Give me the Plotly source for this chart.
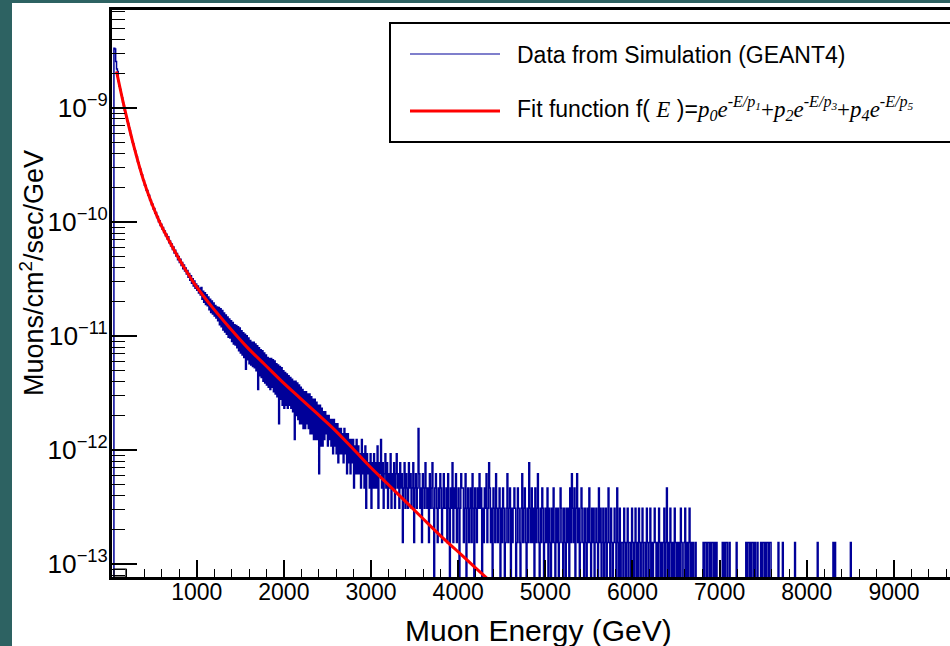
import numpy as np
import plotly.graph_objects as go

# ---------------- data ----------------
# Simulated histogram: counts per 10 GeV bin, starting at 50 GeV (one row = 200 GeV)
bin_low = 50.0
bin_width = 10.0
unit_per_count = 1.545e-13  # Muons/cm^2/sec/GeV per count
counts = [
    21600, 21300, 16500, 14200, 13500, 11050, 10020, 9380, 8510, 7960, 7240, 6810, 6190, 5840, 5330, 4970, 4720, 4310, 4100, 3740,
    3580, 3260, 3120, 2820, 2710, 2490, 2410, 2190, 2130, 1930, 1880, 1700, 1670, 1510, 1490, 1360, 1350, 1230, 1220, 1110,
    1110, 1010, 1000, 915, 925, 840, 850, 770, 785, 708, 722, 650, 664, 602, 618, 561, 578, 523, 540, 490,
    505, 458, 480, 425, 440, 398, 415, 372, 390, 345, 366, 325, 342, 302, 322, 286, 304, 268, 285, 252,
    272, 240, 256, 226, 243, 212, 229, 199, 218, 188, 206, 178, 196, 170, 185, 163, 178, 154, 170, 148,
    172, 136, 160, 128, 155, 122, 149, 119, 142, 110, 136, 104, 131, 101, 126, 97, 120, 93, 116, 88,
    115, 81, 112, 78, 108, 73, 103, 70, 99, 67, 95, 63, 91, 62, 88, 58, 85, 55, 81, 54,
    80, 51, 78, 48, 76, 46, 72, 44, 69, 42, 67, 33, 65, 40, 62, 37, 59, 36, 57, 35,
    57, 34, 55, 32, 53, 22, 51, 29, 49, 28, 48, 26, 46, 25, 44, 24, 42, 23, 41, 22,
    41, 23, 40, 21, 39, 20, 37, 19, 36, 11, 35, 18, 34, 16, 32, 15, 31, 16, 30, 15,
    29, 16, 28, 15, 27, 14, 26, 8, 26, 13, 25, 12, 24, 11, 23, 11, 22, 10, 21, 10,
    21, 11, 20, 10, 20, 9, 19, 9, 18, 8, 18, 8, 17, 8, 16, 4, 16, 7, 15, 7,
    14, 8, 14, 9, 13, 7, 13, 8, 12, 7, 12, 6, 12, 7, 11, 6, 11, 5, 10, 6,
    10, 6, 9, 5, 10, 6, 9, 4, 9, 5, 8, 4, 8, 5, 8, 3, 7, 4, 8, 4,
    7, 4, 6, 3, 8, 4, 6, 3, 7, 2, 6, 4, 5, 3, 6, 2, 5, 3, 6, 3,
    5, 3, 7, 2, 5, 4, 8, 3, 5, 2, 4, 6, 3, 5, 2, 4, 3, 6, 2, 4,
    3, 5, 2, 4, 6, 3, 4, 2, 5, 3, 4, 1, 3, 5, 2, 4, 3, 2, 5, 3,
    4, 2, 3, 5, 1, 3, 4, 2, 3, 10, 4, 2, 3, 1, 4, 3, 2, 5, 3, 2,
    3, 1, 4, 2, 3, 5, 2, 0, 3, 4, 2, 1, 3, 2, 4, 3, 1, 2, 4, 2,
    2, 3, 1, 4, 2, 0, 3, 2, 5, 1, 3, 2, 4, 1, 2, 3, 0, 2, 4, 3,
    3, 1, 2, 4, 0, 2, 3, 1, 2, 3, 1, 4, 2, 0, 3, 2, 1, 3, 2, 4,
    2, 3, 0, 2, 1, 3, 2, 4, 1, 2, 5, 3, 1, 2, 0, 3, 2, 1, 4, 2,
    1, 2, 3, 0, 2, 1, 3, 2, 0, 1, 2, 4, 1, 2, 3, 0, 2, 1, 2, 3,
    2, 0, 1, 3, 2, 1, 0, 2, 4, 1, 2, 3, 1, 0, 2, 1, 5, 2, 1, 3,
    1, 2, 0, 3, 1, 2, 4, 1, 0, 2, 1, 3, 2, 0, 1, 2, 1, 3, 0, 2,
    1, 0, 2, 1, 3, 1, 0, 2, 1, 2, 0, 1, 3, 2, 1, 0, 2, 1, 0, 2,
    1, 2, 0, 3, 1, 4, 2, 1, 3, 0, 2, 4, 1, 2, 0, 1, 3, 2, 1, 0,
    2, 1, 0, 2, 1, 3, 1, 0, 2, 1, 2, 0, 1, 2, 1, 0, 3, 1, 2, 0,
    1, 2, 0, 1, 2, 0, 1, 3, 1, 0, 2, 1, 0, 1, 2, 1, 0, 3, 1, 0,
    2, 0, 1, 1, 0, 2, 1, 0, 1, 2, 0, 1, 1, 0, 2, 1, 0, 1, 2, 0,
    1, 0, 2, 1, 0, 1, 2, 0, 1, 1, 0, 2, 1, 0, 1, 2, 0, 1, 0, 1,
    2, 1, 0, 1, 0, 2, 1, 0, 1, 0, 1, 2, 0, 1, 3, 0, 1, 0, 2, 1,
    0, 1, 0, 2, 1, 0, 1, 0, 1, 0, 2, 1, 0, 0, 1, 2, 0, 1, 0, 1,
    2, 0, 1, 0, 1, 0, 0, 1, 0, 0, 0, 0, 0, 0, 0, 0, 1, 0, 1, 1,
    0, 1, 1, 0, 1, 0, 1, 1, 0, 1, 0, 1, 0, 0, 0, 0, 0, 0, 1, 0,
    1, 0, 1, 1, 0, 0, 1, 0, 0, 0, 0, 0, 0, 0, 1, 0, 0, 0, 0, 0,
    0, 0, 0, 0, 0, 1, 0, 1, 1, 0, 1, 0, 1, 1, 0, 1, 0, 0, 1, 0,
    0, 0, 1, 0, 1, 1, 0, 1, 0, 1, 1, 0, 1, 1, 0, 0, 0, 0, 0, 0,
    0, 0, 1, 0, 0, 0, 0, 1, 0, 0, 0, 0, 0, 0, 0, 0, 0, 0, 0, 0,
    0, 1, 0, 0, 0, 0, 0, 0, 0, 0, 0, 0, 0, 0, 0, 0, 0, 0, 0, 0,
    0, 0, 0, 0, 0, 0, 0, 1, 0, 0, 0, 0, 0, 0, 0, 0, 0, 0, 0, 0,
    0, 0, 0, 0, 0, 1, 0, 1, 0, 0, 0, 0, 0, 0, 0, 0, 0, 0, 0, 0,
    0, 0, 0, 0, 0, 1, 0, 0, 0, 0, 0, 0, 0, 0, 0, 0, 0, 0, 0, 0,
]

# Fit curve
fit_energy = [80, 130, 180, 280, 380, 480, 580, 680, 780, 880, 980, 1180, 1380,
              1580, 1780, 1980, 2180, 2380, 2580, 2780, 2980, 3180, 3380, 3580,
              3780, 3980, 4180, 4380]
fit_value = [2.09e-9, 1.38e-9, 9.33e-10, 4.57e-10, 2.45e-10, 1.48e-10, 9.77e-11,
             6.92e-11, 5.01e-11, 3.72e-11, 2.82e-11, 1.78e-11, 1.175e-11,
             7.94e-12, 5.62e-12, 3.98e-12, 2.88e-12, 2.09e-12, 1.51e-12,
             1.05e-12, 7.24e-13, 5.13e-13, 3.63e-13, 2.57e-13, 1.82e-13,
             1.32e-13, 9.55e-14, 6.92e-14]

x_tick_values = [1000, 2000, 3000, 4000, 5000, 6000, 7000, 8000, 9000]
x_range = [28, 9643]
y_log_range = [-13.114, -8.141]

SERIF = "font-family:'Liberation Serif'"
legend_labels = [
    "Data from Simulation (GEANT4)",
    "Fit function f( <span style=\"" + SERIF + "\"><i>E</i></span> )="
    "<span style=\"" + SERIF + "\"><i>p</i><sub><i>0</i></sub><i>e</i>"
    "<sup><i>-E/p</i><sub><i>1</i></sub></sup>+<i>p</i><sub><i>2</i></sub><i>e</i>"
    "<sup><i>-E/p</i><sub><i>3</i></sub></sup>+<i>p</i><sub><i>4</i></sub><i>e</i>"
    "<sup><i>-E/p</i><sub><i>5</i></sub></sup></span>",
]

# ---------------- build histogram steps ----------------
c = np.array(counts, dtype=float)
vals = np.where(c > 0, c * unit_per_count, 1e-17)
edges = bin_low + bin_width * np.arange(len(c) + 1)
hx = np.concatenate([[edges[0]], edges[:-1], [edges[-1]]])
hy = np.concatenate([[1e-17], vals, [vals[-1]]])

FONT = "Liberation Sans, Arial, Helvetica, sans-serif"
BLUE = "#000099"
RED = "#ff0000"

fig = go.Figure()
fig.add_trace(go.Scatter(x=hx, y=hy, mode="lines", line=dict(shape="hv", color=BLUE, width=1.5),
                         showlegend=False, hoverinfo="skip"))
fig.add_trace(go.Scatter(x=fit_energy, y=fit_value, mode="lines",
                         line=dict(shape="spline", color=RED, width=3),
                         showlegend=False, hoverinfo="skip"))

L, R, T, B = 112, 0, 10, 69
W, H = 950, 646
pw, ph = W - L - R, H - T - B


def px(xp):
    return (xp - L) / pw


def py(yp):
    return (H - B - yp) / ph


shapes = [
    dict(type="rect", xref="paper", yref="paper", x0=px(12), x1=px(1000), y0=py(700), y1=py(3),
         fillcolor="white", line=dict(width=0), layer="below"),
    # small frame box in the lower-left corner
    dict(type="rect", xref="paper", yref="paper", x0=px(114), x1=px(126), y0=py(577), y1=py(569),
         fillcolor="rgba(0,0,0,0)", line=dict(color="black", width=1.2), layer="above"),
    dict(type="rect", xref="paper", yref="paper", x0=px(390), x1=px(1010), y0=py(142), y1=py(23),
         fillcolor="white", line=dict(color="black", width=2), layer="above"),
    dict(type="line", xref="paper", yref="paper", x0=px(410), x1=px(500), y0=py(54), y1=py(54),
         line=dict(color=BLUE, width=1.2), layer="above"),
    dict(type="line", xref="paper", yref="paper", x0=px(410), x1=px(500), y0=py(111), y1=py(111),
         line=dict(color=RED, width=3), layer="above"),
]

annotations = [
    dict(text=legend_labels[0], xref="paper", yref="paper", x=px(515), y=py(55),
         xanchor="left", yanchor="middle", showarrow=False, font=dict(family=FONT, size=23, color="black")),
    dict(text=legend_labels[1], xref="paper", yref="paper", x=px(515), y=py(108),
         xanchor="left", yanchor="middle", showarrow=False, font=dict(family=FONT, size=23, color="black")),
    dict(text="Muon Energy (GeV)", xref="paper", yref="paper", x=px(538), y=py(630),
         xanchor="center", yanchor="middle", showarrow=False, font=dict(family=FONT, size=30, color="black")),
    dict(text="Muons/cm<sup>2</sup>/sec/GeV", xref="paper", yref="paper", x=px(32), y=py(273),
         xanchor="center", yanchor="middle", textangle=-90, showarrow=False,
         font=dict(family=FONT, size=27, color="black")),
]

fig.update_layout(
    width=W, height=H,
    margin=dict(l=L, r=R, t=T, b=B, pad=0),
    paper_bgcolor="#2d6262",
    plot_bgcolor="white",
    shapes=shapes,
    annotations=annotations,
    showlegend=False,
    xaxis=dict(range=x_range, tickmode="array", tickvals=x_tick_values,
               ticktext=[str(v) for v in x_tick_values],
               ticks="inside", ticklen=17, tickwidth=1.5, tickcolor="black",
               showline=True, linewidth=2.5, linecolor="black", mirror=True,
               showgrid=False, zeroline=False, ticklabelstandoff=-7,
               tickfont=dict(family=FONT, size=23, color="black"),
               minor=dict(tickmode="linear", tick0=0, dtick=200, ticks="inside", ticklen=8,
                          tickwidth=1.3, tickcolor="black", showgrid=False)),
    yaxis=dict(type="log", range=y_log_range, tickmode="linear", tick0=0, dtick=1,
               exponentformat="power",
               ticks="inside", ticklen=25, tickwidth=1.5, tickcolor="black",
               showline=True, linewidth=3, linecolor="black", mirror=False,
               showgrid=False, zeroline=False, ticklabelstandoff=-3,
               tickfont=dict(family=FONT, size=21, color="black"),
               minor=dict(dtick="D1", ticks="inside", ticklen=13, tickwidth=1.3,
                          tickcolor="black", showgrid=False)),
)

fig.write_html("out.html")
